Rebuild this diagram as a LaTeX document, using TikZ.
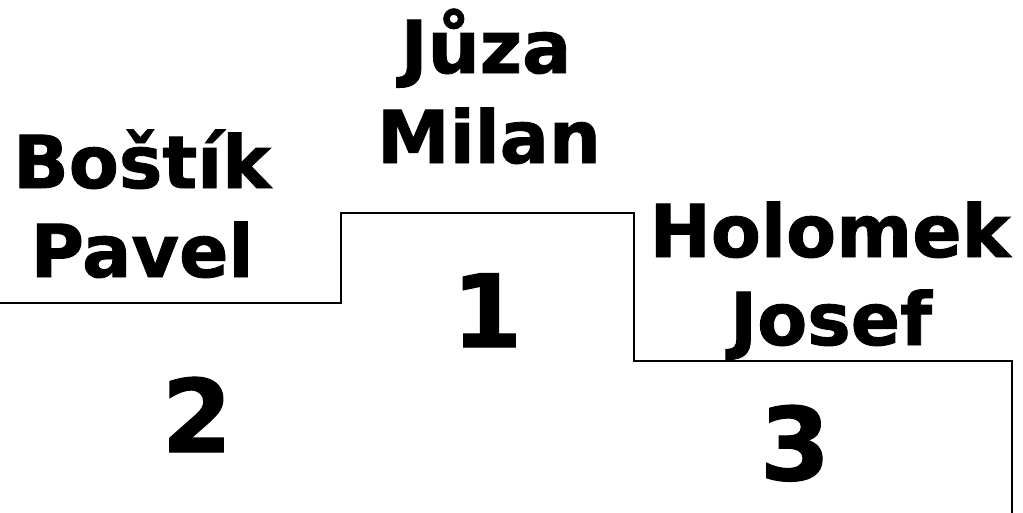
\documentclass[tikz,border=0pt]{standalone}
\usepackage{fontspec}
\setmainfont[BoldFeatures={FakeBold=1.2}]{DejaVu Sans}
\begin{document}
\begin{tikzpicture}[x=1pt,y=-1pt,
  personlbl/.style={font=\fontsize{73}{88}\bfseries\selectfont, anchor=base, inner sep=0pt},
  placelbl/.style={font=\fontsize{101}{120}\bfseries\selectfont, anchor=base, inner sep=0pt},
  podium/.style={line width=2.6pt, draw=black, line join=miter}]
\useasboundingbox (0,0) rectangle (1023,512);
\draw[podium] (-3,303) -- (341,303) -- (341,213) -- (634,213) -- (634,361) -- (1012,361) -- (1012,515);
\node[personlbl] (n2a) at (142,188) {Boštík};
\node[personlbl] (n2b) at (142,277) {Pavel};
\node[personlbl] (n1a) at (486,73) {Jůza};
\node[personlbl] (n1b) at (489,163) {Milan};
\node[personlbl] (n3a) at (830,257) {Holomek};
\node[personlbl] (n3b) at (831,345) {Josef};
\node[placelbl] (p1) at (487,347) {1};
\node[placelbl] (p2) at (197,452) {2};
\node[placelbl] (p3) at (795,480) {3};
\end{tikzpicture}
\end{document}
